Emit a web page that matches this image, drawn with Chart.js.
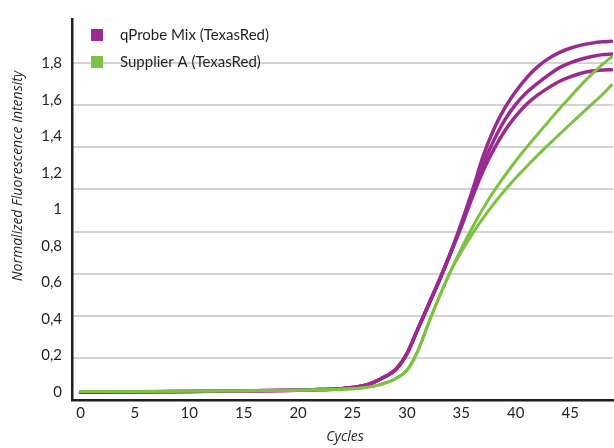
<!DOCTYPE html>
<html>
<head>
<meta charset="utf-8">
<script src="https://cdn.jsdelivr.net/npm/chart.js@4.4.1/dist/chart.umd.min.js"></script>
<style>
  html, body { margin: 0; padding: 0; background: #ffffff; }
  #wrap { width: 614px; height: 448px; }
</style>
</head>
<body>
<div id="wrap"><canvas id="myChart" width="614" height="448"></canvas></div>
<script>
// data
let cycles = [0, 5, 10, 15, 20, 22, 24, 25, 26, 27, 28, 29, 30, 31, 32, 33, 34, 35, 36, 37, 38, 39, 40, 41, 42, 43, 44, 45, 46, 47, 48, 48.8];

let qprobeTop = [0.000, 0.002, 0.004, 0.007, 0.011, 0.014, 0.019, 0.025, 0.035, 0.055, 0.085, 0.125, 0.21, 0.345, 0.48, 0.615, 0.76, 0.925, 1.10, 1.29, 1.44, 1.555, 1.645, 1.72, 1.78, 1.825, 1.858, 1.882, 1.899, 1.91, 1.917, 1.92];
let qprobeMid = [0.000, 0.002, 0.004, 0.007, 0.011, 0.014, 0.019, 0.025, 0.035, 0.055, 0.085, 0.125, 0.21, 0.345, 0.48, 0.615, 0.76, 0.915, 1.085, 1.245, 1.38, 1.49, 1.575, 1.64, 1.69, 1.735, 1.775, 1.802, 1.822, 1.837, 1.847, 1.85];
let qprobeLow = [0.000, 0.002, 0.004, 0.007, 0.011, 0.014, 0.019, 0.025, 0.035, 0.055, 0.085, 0.125, 0.21, 0.345, 0.48, 0.615, 0.76, 0.905, 1.065, 1.21, 1.33, 1.43, 1.51, 1.575, 1.625, 1.665, 1.70, 1.725, 1.745, 1.757, 1.763, 1.764];

let supplierUp = [0.003, 0.004, 0.006, 0.008, 0.011, 0.013, 0.016, 0.019, 0.024, 0.033, 0.05, 0.075, 0.12, 0.225, 0.38, 0.525, 0.66, 0.785, 0.90, 1.005, 1.10, 1.185, 1.265, 1.34, 1.41, 1.48, 1.55, 1.615, 1.68, 1.74, 1.795, 1.834];
let supplierLow = [0.003, 0.004, 0.006, 0.008, 0.011, 0.013, 0.016, 0.019, 0.024, 0.033, 0.05, 0.075, 0.12, 0.225, 0.38, 0.525, 0.66, 0.768, 0.865, 0.952, 1.032, 1.105, 1.172, 1.235, 1.295, 1.353, 1.41, 1.466, 1.521, 1.576, 1.63, 1.68];

let xTicks = [0, 5, 10, 15, 20, 25, 30, 35, 40, 45];
let yTicks = [0, 0.2, 0.4, 0.6, 0.8, 1, 1.2, 1.4, 1.6, 1.8];
let gridSteps = [1, 2, 3, 4, 5, 6, 7, 8];

let legendNames = ["qProbe Mix (TexasRed)", "Supplier A (TexasRed)"];

const PURPLE = "#9a2a8e";
const GREEN = "#7cc142";
const TEXT = "#231f20";
const FONT = "Lato, 'Open Sans', sans-serif";
const TITLE_FONT = "'Open Sans', Lato, sans-serif";

function pts(values) {
    return cycles.map((c, i) => ({ x: c, y: values[i] }));
}

function line(label, values, color, width, order) {
    return {
        label: label,
        data: pts(values),
        borderColor: color,
        backgroundColor: color,
        borderWidth: width,
        pointRadius: 0,
        cubicInterpolationMode: "monotone",
        borderCapStyle: "round",
        borderJoinStyle: "round",
        fill: false,
        order: order
    };
}

/* legend + axis titles drawn on the canvas */
const extras = {
    id: "extras",
    afterDraw(chart) {
        let ctx = chart.ctx;
        ctx.save();

        let colors = [PURPLE, GREEN];
        ctx.font = "15px " + FONT;
        ctx.textBaseline = "middle";
        ctx.textAlign = "left";
        for (let i = 0; i < legendNames.length; i++) {
            let y = 35 + i * 27;
            ctx.fillStyle = colors[i];
            ctx.fillRect(91, y - 6, 12, 12);
            ctx.fillStyle = TEXT;
            ctx.fillText(legendNames[i], 120, y);
        }

        ctx.font = "italic 14px " + TITLE_FONT;
        ctx.textAlign = "center";
        ctx.fillText("Cycles", 345, 437);

        ctx.translate(18, 176);
        ctx.rotate(-Math.PI / 2);
        ctx.fillText("Normalized Fluorescence Intensity", 0, 0);

        ctx.restore();
    }
};

let ctx = document.getElementById("myChart").getContext("2d");

let chart = new Chart(ctx, {
    type: "line",
    data: {
        datasets: [
            line(legendNames[1], supplierUp, GREEN, 3, 0),
            line(legendNames[1], supplierLow, GREEN, 3, 0),
            line(legendNames[0], qprobeTop, PURPLE, 3.5, 1),
            line(legendNames[0], qprobeMid, PURPLE, 3.5, 1),
            line(legendNames[0], qprobeLow, PURPLE, 3.5, 1)
        ]
    },
    options: {
        responsive: false,
        animation: false,
        layout: {
            padding: { top: 12, right: 0, left: 0, bottom: 0 }
        },
        plugins: {
            legend: { display: false },
            tooltip: { enabled: false }
        },
        scales: {
            x: {
                type: "linear",
                min: -0.78,
                max: 48.94,
                afterBuildTicks: (s) => { s.ticks = xTicks.map(v => ({ value: v })); },
                afterFit: (s) => { s.height = 48; },
                grid: { display: false, drawTicks: false },
                border: { display: true, color: "#1e1e1e", width: 2.5 },
                ticks: {
                    color: TEXT,
                    padding: 4,
                    maxRotation: 0,
                    font: { family: FONT, size: 15 }
                }
            },
            y: {
                type: "linear",
                position: "left",
                min: -0.043,
                max: 2.042,
                afterBuildTicks: (s) => { s.ticks = yTicks.map(v => ({ value: v })); },
                afterFit: (s) => { s.width = 72; },
                grid: { display: false, drawTicks: false },
                border: { display: true, color: "#1e1e1e", width: 2.5 },
                ticks: {
                    color: TEXT,
                    padding: 10,
                    font: { family: FONT, size: 15 },
                    callback: (v) => String(v).replace(".", ",")
                }
            },
            g: {
                type: "linear",
                position: "right",
                min: 0,
                max: 9.045,
                afterBuildTicks: (s) => { s.ticks = gridSteps.map(v => ({ value: v })); },
                afterFit: (s) => { s.width = 1; },
                grid: { color: "#d3d3d3", lineWidth: 2, drawTicks: false },
                border: { display: false },
                ticks: { display: false }
            }
        }
    },
    plugins: [extras]
});
</script>
</body>
</html>
